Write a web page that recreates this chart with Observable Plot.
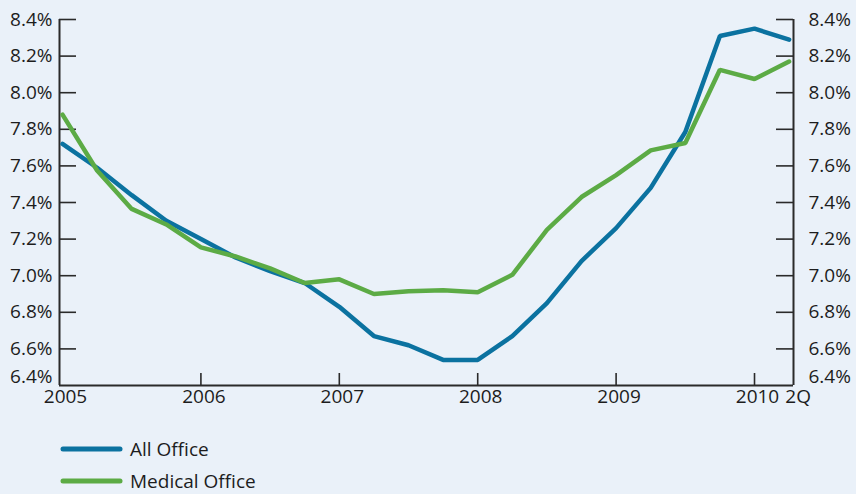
<!DOCTYPE html>
<html><head><meta charset="utf-8">
<script src="https://cdn.jsdelivr.net/npm/d3@7"></script>
<script src="https://cdn.jsdelivr.net/npm/@observablehq/plot@0.6"></script>
<style>
html,body{margin:0;padding:0;background:#eaf1f9;}
body{width:856px;height:494px;overflow:hidden;font-family:"Open Sans",sans-serif;}
#legend{padding-top:13px;}
.row{display:flex;align-items:center;height:32px;font-size:19px;line-height:22px;color:#1d1d1d;}
.row svg{margin-left:60px;margin-right:7px;display:block}
</style></head><body>
<div id="chart"></div>
<div id="legend"></div>
<script>
const quarters = ["2005Q1","2005Q2","2005Q3","2005Q4","2006Q1","2006Q2","2006Q3","2006Q4",
  "2007Q1","2007Q2","2007Q3","2007Q4","2008Q1","2008Q2","2008Q3","2008Q4",
  "2009Q1","2009Q2","2009Q3","2009Q4","2010Q1","2010Q2"];
const allOffice = [7.72,7.59,7.44,7.30,7.20,7.10,7.025,6.96,6.83,6.67,6.62,6.54,6.54,6.67,6.85,7.08,7.26,7.48,7.785,8.31,8.35,8.29];
const medicalOffice = [7.88,7.575,7.365,7.28,7.155,7.105,7.04,6.96,6.98,6.90,6.915,6.92,6.91,7.005,7.25,7.43,7.55,7.685,7.725,8.125,8.075,8.17];
const seriesNames = ["All Office","Medical Office"];
const seriesColors = ["#0b72a0","#5cab45"];
const years = ["2005","2006","2007","2008","2009","2010"];
const lastLabel = "2Q";
const yTicks = [6.4,6.6,6.8,7.0,7.2,7.4,7.6,7.8,8.0,8.2,8.4];

const data = quarters.flatMap((q,i)=>[
  {i, v: allOffice[i], s: seriesNames[0]},
  {i, v: medicalOffice[i], s: seriesNames[1]}
]);
const yearIdx = years.map(y => quarters.indexOf(y + "Q1"));

const W = 856, H = 420, mL = 59, mR = 63, mT = 19, mB = 35;
const innerW = W - mL - mR, innerH = H - mT - mB;
const axisColor = "#2a2a2a";
const fmt = d => d.toFixed(1) + "%";

const chart = Plot.plot({
  width: W, height: H,
  marginLeft: mL, marginRight: mR, marginTop: mT, marginBottom: mB,
  style: {background: "transparent", fontFamily: "Open Sans", fontSize: "19px", color: "#1d1d1d", overflow: "visible"},
  x: {domain: [-0.087, 21.127]},
  y: {domain: [6.4, 8.4]},
  color: {domain: seriesNames, range: seriesColors},
  marks: [
    Plot.ruleY([6.4], {stroke: axisColor, strokeWidth: 2}),
    Plot.ruleX([-0.087, 21.127], {stroke: axisColor, strokeWidth: 2}),
    Plot.tickY(yTicks.slice(1), {y: d => d, insetRight: innerW - 17, stroke: axisColor, strokeWidth: 1.6}),
    Plot.tickY(yTicks.slice(1), {y: d => d, insetLeft: innerW - 17, stroke: axisColor, strokeWidth: 1.6}),
    Plot.tickX(yearIdx.slice(1), {x: d => d, insetTop: innerH - 12, stroke: axisColor, strokeWidth: 1.6}),
    Plot.axisY({anchor: "left", ticks: yTicks.slice(1), tickSize: 0, tickPadding: 7, tickFormat: fmt, label: null}),
    Plot.axisY({anchor: "left", ticks: [yTicks[0]], tickSize: 0, tickPadding: 7, tickFormat: fmt, label: null, dy: -9}),
    Plot.axisY({anchor: "right", ticks: yTicks.slice(1), tickSize: 0, tickPadding: 15, tickFormat: fmt, label: null}),
    Plot.axisY({anchor: "right", ticks: [yTicks[0]], tickSize: 0, tickPadding: 15, tickFormat: fmt, label: null, dy: -9}),
    Plot.axisX({ticks: yearIdx, tickSize: 0, tickPadding: 4, tickFormat: d => years[yearIdx.indexOf(d)], label: null, dx: 3}),
    Plot.text([quarters.length - 1], {x: d => d, y: () => 6.4, text: () => lastLabel, lineAnchor: "top", dy: 4, dx: 9, fill: "#1d1d1d"}),
    Plot.line(data, {x: "i", y: "v", z: "s", stroke: "s", strokeWidth: 4.5, strokeLinejoin: "miter", strokeLinecap: "round"})
  ]
});
document.getElementById("chart").append(chart);

const legend = document.getElementById("legend");
seriesNames.forEach((name, k) => {
  const row = document.createElement("div");
  row.className = "row";
  row.innerHTML = `<svg width="63" height="10"><line x1="3" x2="60" y1="5" y2="5" stroke="${seriesColors[k]}" stroke-width="5" stroke-linecap="round"/></svg><span>${name}</span>`;
  legend.append(row);
});
</script>
</body></html>
